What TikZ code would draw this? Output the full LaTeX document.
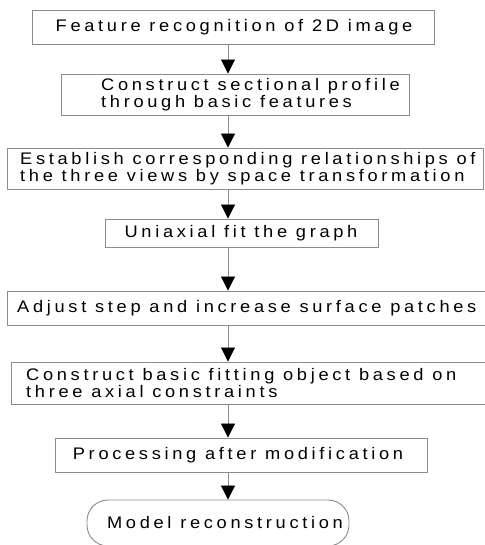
\documentclass[tikz,border=0pt]{standalone}
\usepackage{fontspec}
\setmainfont[LetterSpace=22,FakeStretch=1.09]{Liberation Sans}
\usetikzlibrary{arrows.meta}
\definecolor{edge}{RGB}{140,140,140}
\begin{document}
\begin{tikzpicture}[x=1pt,y=1pt,
  box/.style={draw=edge,line width=0.9pt,fill=white,inner sep=0pt},
  txt/.style={inner sep=0pt,font=\fontsize{16.75}{17.6}\selectfont,text=black,align=left},
  arr/.style={draw=edge,line width=0.9pt,-{Triangle[width=14pt,length=14pt,color=black]}}]
\useasboundingbox (0,0) rectangle (484,545);
\fill[white] (0,0) rectangle (484,545);
\coordinate (ax) at (228,0);
% boxes
\node[box,minimum width=402pt,minimum height=34pt] (b1) at (233,518) {};
\node[box,minimum width=348pt,minimum height=41pt] (b2) at (235,450.5) {};
\node[box,minimum width=476pt,minimum height=41pt] (b3) at (245,376.5) {};
\node[box,minimum width=273pt,minimum height=28pt] (b4) at (241.5,312) {};
\node[box,minimum width=479pt,minimum height=34pt] (b5) at (246.5,237) {};
\node[box,minimum width=476pt,minimum height=42pt] (b6) at (249,162) {};
\node[box,minimum width=372pt,minimum height=34pt] (b7) at (241,90) {};
\node[box,rounded corners=21pt,minimum width=262pt,minimum height=46pt] (b8) at (218,22) {};
% texts
\node[txt] (t1) at (234,518) {Feature recognition of 2D image};
\node[txt,anchor=west] (t2) at (101,450.5) {Construct sectional profile\\through basic features};
\node[txt,anchor=west] (t3) at (20,376.5) {Establish corresponding relationships of\\the three views by space transformation};
\node[txt] (t4) at (241,312) {Uniaxial fit the graph};
\node[txt,anchor=west] (t5) at (17,237) {Adjust step and increase surface patches};
\node[txt,anchor=west] (t6) at (26,162) {Construct basic fitting object based on\\three axial constraints};
\node[txt] (t7) at (238,90) {Processing after modification};
\node[txt] (t8) at (225,22) {Model reconstruction};
% arrows
\draw[arr] (b1.south -| ax) -- (b2.north -| ax);
\draw[arr] (b2.south -| ax) -- (b3.north -| ax);
\draw[arr] (b3.south -| ax) -- (b4.north -| ax);
\draw[arr] (b4.south -| ax) -- (b5.north -| ax);
\draw[arr] (b5.south -| ax) -- (b6.north -| ax);
\draw[arr] (b6.south -| ax) -- (b7.north -| ax);
\draw[arr] (b7.south -| ax) -- (b8.north -| ax);
\end{tikzpicture}
\end{document}
